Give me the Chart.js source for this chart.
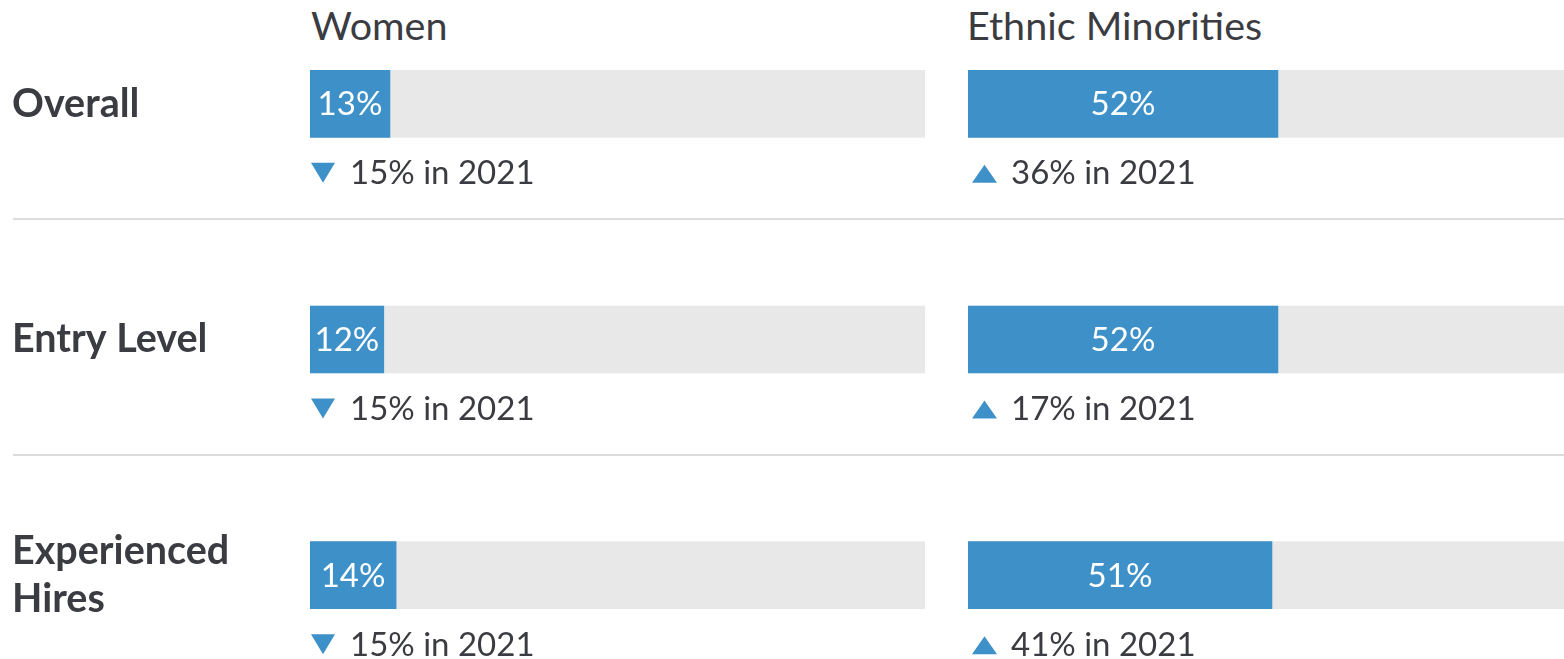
<!DOCTYPE html>
<html>
<head>
<meta charset="utf-8">
<script src="https://cdn.jsdelivr.net/npm/chart.js@4"></script>
<style>
  body { margin: 0; width: 1564px; height: 659px; overflow: hidden; background: #fff; font-family: Lato, sans-serif; color: #3b3c42; }
  .box { position: absolute; }
  .head { position: absolute; top: 1px; font-size: 39.5px; line-height: 48px; }
  .sep { position: absolute; left: 13px; width: 1551px; height: 2px; background: #dcdcdc; }
</style>
</head>
<body>
<div class="head" style="left:311px">Women</div>
<div class="head" style="left:967px">Ethnic Minorities</div>
<div class="sep" style="top:218px"></div>
<div class="sep" style="top:454px"></div>
<div class="box" style="left:0;top:-14px;width:925px;height:707px"><canvas id="women"></canvas></div>
<div class="box" style="left:968px;top:-14px;width:596px;height:707px"><canvas id="ethnic"></canvas></div>
<script>
// row labels
var categories = [['Overall'], ['Entry Level'], ['Experienced', 'Hires']];
// 2022 share (%)
var women = [13, 12, 14];
var ethnic = [52, 52, 51];
// 2021 share (%)
var womenPrev = [15, 15, 15];
var ethnicPrev = [36, 17, 41];
var fullTrack = [100, 100, 100];

var blue = '#3e91c8';
var grey = '#e8e8e8';
var textCol = '#3b3c42';

// draws the % inside each bar and the "vs 2021" line under it
var labelPlugin = {
  id: 'barLabels',
  afterDatasetsDraw: function(chart) {
    var ctx = chart.ctx;
    var meta = chart.getDatasetMeta(0);
    var prev = chart.options.plugins.barLabels.prev;
    var cur = chart.data.datasets[0].data;
    var left = chart.chartArea.left;
    ctx.save();
    meta.data.forEach(function(bar, i) {
      ctx.font = '33px Lato';
      ctx.fillStyle = '#fff';
      ctx.textAlign = 'center';
      ctx.textBaseline = 'middle';
      ctx.fillText(cur[i] + '%', (bar.x + bar.base) / 2, bar.y + 1);

      var ty = bar.y + 70;
      var down = cur[i] < prev[i];
      ctx.fillStyle = blue;
      ctx.beginPath();
      if (down) {
        ctx.moveTo(left + 1, ty - 11);
        ctx.lineTo(left + 25, ty - 11);
        ctx.lineTo(left + 13, ty + 9);
      } else {
        ctx.moveTo(left + 4, ty + 9);
        ctx.lineTo(left + 29, ty + 9);
        ctx.lineTo(left + 16.5, ty - 9);
      }
      ctx.closePath();
      ctx.fill();

      ctx.fillStyle = textCol;
      ctx.textAlign = 'left';
      ctx.fillText(prev[i] + '% in 2021', left + (down ? 40 : 43), ty);
    });
    ctx.restore();
  }
};

function makeChart(id, values, prev, showLabels) {
  return new Chart(document.getElementById(id), {
    type: 'bar',
    data: {
      labels: categories,
      datasets: [
        { data: values, backgroundColor: blue, barThickness: 67, grouped: false },
        { data: fullTrack, backgroundColor: grey, barThickness: 67, grouped: false }
      ]
    },
    options: {
      indexAxis: 'y',
      responsive: true,
      maintainAspectRatio: false,
      animation: false,
      layout: { padding: { left: showLabels ? 12 : 0, right: 0, top: 0, bottom: 0 } },
      plugins: {
        legend: { display: false },
        tooltip: { enabled: false },
        barLabels: { prev: prev }
      },
      scales: {
        x: { display: false, min: 0, max: 100 },
        y: {
          display: showLabels,
          grid: { display: false },
          border: { display: false },
          ticks: {
            crossAlign: 'far',
            color: textCol,
            font: { family: 'Lato', size: 39.5, weight: 'bold', lineHeight: 1.2 }
          },
          afterFit: function(scale) {
            if (!showLabels) return;
            scale.width = 298;
            scale.paddingTop = 0;
            scale.paddingBottom = 0;
          }
        }
      }
    },
    plugins: [labelPlugin]
  });
}

makeChart('women', women, womenPrev, true);
makeChart('ethnic', ethnic, ethnicPrev, false);
</script>
</body>
</html>
